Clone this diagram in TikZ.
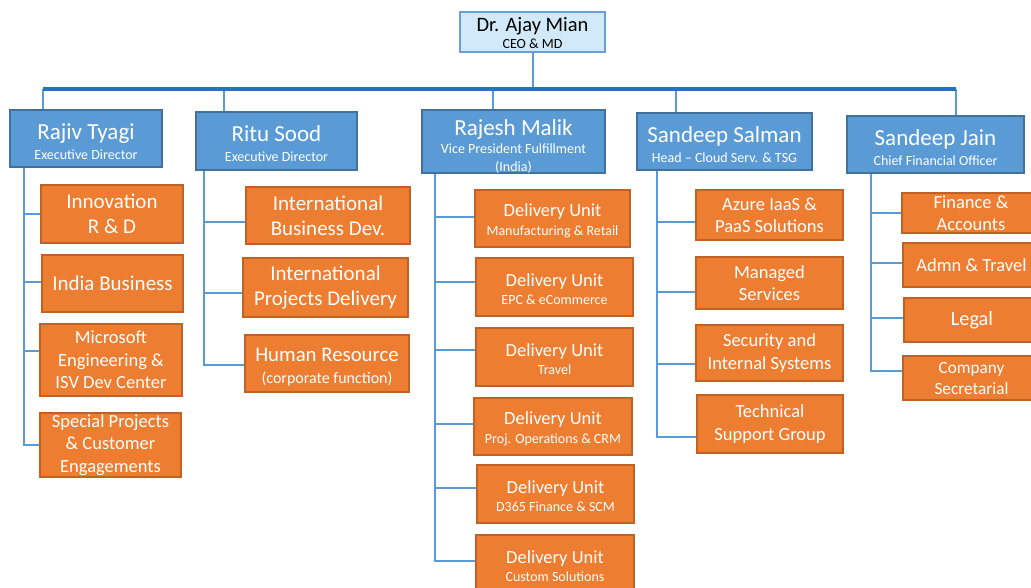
\documentclass[tikz,border=0pt]{standalone}
\usepackage{fontspec}
\setmainfont{Carlito}
\definecolor{orgfill}{HTML}{ED7D31}
\definecolor{orgborder}{HTML}{BE6226}
\definecolor{mgrfill}{HTML}{5B9BD5}
\definecolor{mgrborder}{HTML}{41719C}
\definecolor{ceofill}{HTML}{D2E9F9}
\definecolor{ceoborder}{HTML}{6A9ED6}
\definecolor{lineblue}{HTML}{5B9BD5}
\definecolor{busblue}{HTML}{2472C0}
\tikzset{
  conn/.style={draw=lineblue, line width=2pt},
  busline/.style={draw=busblue, line width=3.5pt},
  mgr/.style={rectangle, draw=mgrborder, fill=mgrfill, line width=1.2pt, text=white, align=center, inner sep=0pt, font=\fontsize{14}{20}\selectfont},
  ceobox/.style={rectangle, draw=ceoborder, fill=ceofill, line width=1.2pt, text=black, align=center, inner sep=0pt, font=\fontsize{14}{20}\selectfont},
  obox/.style={rectangle, draw=orgborder, fill=orgfill, line width=1.2pt, text=white, align=center, inner sep=0pt},
  big/.style={font=\fontsize{21}{25}\selectfont},
  mid/.style={font=\fontsize{18.5}{22.5}\selectfont},
  dutext/.style={font=\fontsize{14}{18.5}\selectfont},
}
\newcommand{\nm}[1]{{\fontsize{23}{20}\selectfont\rule{0pt}{22pt}#1}}
\newcommand{\dun}{{\fontsize{18.5}{18}\selectfont\rule{0pt}{17pt}Delivery Unit}}
\begin{document}
\begin{tikzpicture}[x=1pt,y=-1pt]
\useasboundingbox (0,0) rectangle (1031,588);
\clip (0,0) rectangle (1031,588);
% CEO
\node[ceobox, minimum width=145pt, minimum height=40pt] (ceo) at (532.5,32) {{\fontsize{20.5}{20}\selectfont\rule{0pt}{17pt}Dr. Ajay Mian}\\[-3pt]CEO \& MD};
% managers
\node[mgr, minimum width=152pt, minimum height=57pt] (rt) at (86,138.5) {\nm{Rajiv Tyagi}\\Executive Director};
\node[mgr, minimum width=161pt, minimum height=58pt] (rs) at (276.5,141) {\nm{Ritu Sood}\\Executive Director};
\node[mgr, minimum width=183pt, minimum height=57pt, font=\fontsize{14}{18}\selectfont] (rm) at (513.5,141.5) {{\fontsize{23}{20}\selectfont\rule{0pt}{25pt}Rajesh Malik}\\Vice President Fulfillment\\(India)};
\node[mgr, minimum width=175pt, minimum height=57pt] (ss) at (724.5,141.5) {\nm{Sandeep Salman}\\Head -- Cloud Serv. \& TSG};
\node[mgr, minimum width=177pt, minimum height=57pt] (sj) at (935.5,144.5) {\nm{Sandeep Jain}\\Chief Financial Officer};
% bus
\coordinate (bus) at (0,89);
\coordinate (d1) at ([xshift=34pt]rt.north west);
\coordinate (d2) at ([xshift=29pt]rs.north west);
\coordinate (d3) at ([xshift=72pt]rm.north west);
\coordinate (d4) at ([xshift=40pt]ss.north west);
\coordinate (d5) at ([xshift=110pt]sj.north west);
\draw[conn] (ceo.south) -- (ceo.south |- bus);
\foreach \d in {d1,d2,d3,d4,d5} {\draw[conn] (\d) -- (\d |- bus);}
\draw[busline] (d1 |- bus) -- (d5 |- bus);
% Rajiv children
\node[obox, big, minimum width=142pt, minimum height=58pt] (inn) at (112,214) {Innovation\\R \& D};
\node[obox, big, minimum width=141pt, minimum height=57pt] (ind) at (112.5,283.5) {India Business};
\node[obox, mid, minimum width=142pt, minimum height=72pt] (ms) at (111,360) {Microsoft\\Engineering \&\\ISV Dev Center};
\node[obox, mid, minimum width=141pt, minimum height=64pt] (sp) at (110.5,445) {Special Projects\\\& Customer\\Engagements};
\coordinate (rtS) at ([xshift=15pt]rt.south west);
\coordinate (a1) at (inn.west);
\coordinate (a2) at ([yshift=1.5pt]ind.west);
\coordinate (a3) at ([yshift=9pt]ms.west);
\coordinate (a4) at (sp.west);
\draw[conn] (rtS) |- (a4);
\foreach \c in {a1,a2,a3} {\draw[conn] (\c) -- (\c -| rtS);}
% Ritu children
\node[obox, big, minimum width=164pt, minimum height=57pt] (ibd) at (328,215.5) {International\\Business Dev.};
\node[obox, big, minimum width=165pt, minimum height=59pt] (ipd) at (325.5,287.5) {International\\Projects Delivery};
\node[obox, minimum width=164pt, minimum height=57pt, font=\fontsize{16}{22}\selectfont] (hr) at (327,363.5) {{\fontsize{20.8}{21}\selectfont\rule{0pt}{20pt}Human Resource}\\(corporate function)};
\coordinate (rsS) at ([xshift=9pt]rs.south west);
\coordinate (b1) at ([yshift=-6.5pt]ibd.west);
\coordinate (b2) at ([yshift=-5.5pt]ipd.west);
\coordinate (b3) at ([yshift=-1.5pt]hr.west);
\draw[conn] (rsS) |- (b3);
\foreach \c in {b1,b2} {\draw[conn] (\c) -- (\c -| rsS);}
% Rajesh children
\node[obox, dutext, minimum width=155pt, minimum height=57pt] (du1) at (552.5,218.5) {\dun\\Manufacturing \& Retail};
\node[obox, dutext, minimum width=157pt, minimum height=58pt] (du2) at (554.5,287) {\dun\\EPC \& eCommerce};
\node[obox, dutext, minimum width=157pt, minimum height=58pt] (du3) at (554.5,357) {\dun\\Travel};
\node[obox, dutext, minimum width=158pt, minimum height=57pt] (du4) at (553,426.5) {\dun\\Proj. Operations \& CRM};
\node[obox, dutext, minimum width=157pt, minimum height=58pt] (du5) at (555.5,494) {\dun\\D365 Finance \& SCM};
\node[obox, dutext, minimum width=158pt, minimum height=58pt] (du6) at (555,564) {\dun\\Custom Solutions};
\coordinate (rmS) at ([xshift=14pt]rm.south west);
\coordinate (c1) at ([yshift=1.5pt]du1.west);
\coordinate (c2) at ([yshift=5pt]du2.west);
\coordinate (c3) at ([yshift=7pt]du3.west);
\coordinate (c4) at ([yshift=2.5pt]du4.west);
\coordinate (c5) at ([yshift=6pt]du5.west);
\coordinate (c6) at ([yshift=3pt]du6.west);
\draw[conn] (rmS) |- (c6);
\foreach \c in {c1,c2,c3,c4,c5} {\draw[conn] (\c) -- (\c -| rmS);}
% Salman children
\node[obox, mid, minimum width=147pt, minimum height=50pt] (az) at (769.5,215) {Azure IaaS \&\\PaaS Solutions};
\node[obox, mid, minimum width=147pt, minimum height=52pt] (msv) at (769.5,283) {Managed\\Services};
\node[obox, mid, minimum width=147pt, minimum height=56pt] (sec) at (769.5,353) {Security and\\Internal Systems};
\node[obox, mid, minimum width=146pt, minimum height=58pt] (tsg) at (770,424) {Technical\\Support Group};
\coordinate (ssS) at ([xshift=21pt]ss.south west);
\coordinate (e1) at ([yshift=-7pt]az.west);
\coordinate (e2) at ([yshift=-9pt]msv.west);
\coordinate (e3) at ([yshift=-11pt]sec.west);
\coordinate (e4) at ([yshift=-13pt]tsg.west);
\draw[conn] (ssS) |- (e4);
\foreach \c in {e1,e2,e3} {\draw[conn] (\c) -- (\c -| ssS);}
% Jain children
\node[obox, mid, minimum width=138pt, minimum height=40pt, font=\fontsize{18.5}{22}\selectfont] (fa) at (971,213) {Finance \&\\Accounts};
\node[obox, mid, minimum width=137pt, minimum height=44pt] (at) at (971.5,265) {Admn \& Travel};
\node[obox, minimum width=136pt, minimum height=44pt, font=\fontsize{20.3}{22}\selectfont] (lg) at (972,320) {Legal};
\node[obox, minimum width=137pt, minimum height=44pt, font=\fontsize{17.2}{21}\selectfont] (cs) at (971.5,378) {Company\\Secretarial};
\coordinate (sjS) at ([xshift=25pt]sj.south west);
\coordinate (f1) at (fa.west);
\coordinate (f2) at ([yshift=2pt]at.west);
\coordinate (f3) at ([yshift=2pt]lg.west);
\coordinate (f4) at ([yshift=7pt]cs.west);
\draw[conn] (sjS) |- (f4);
\foreach \c in {f1,f2,f3} {\draw[conn] (\c) -- (\c -| sjS);}
\end{tikzpicture}
\end{document}
